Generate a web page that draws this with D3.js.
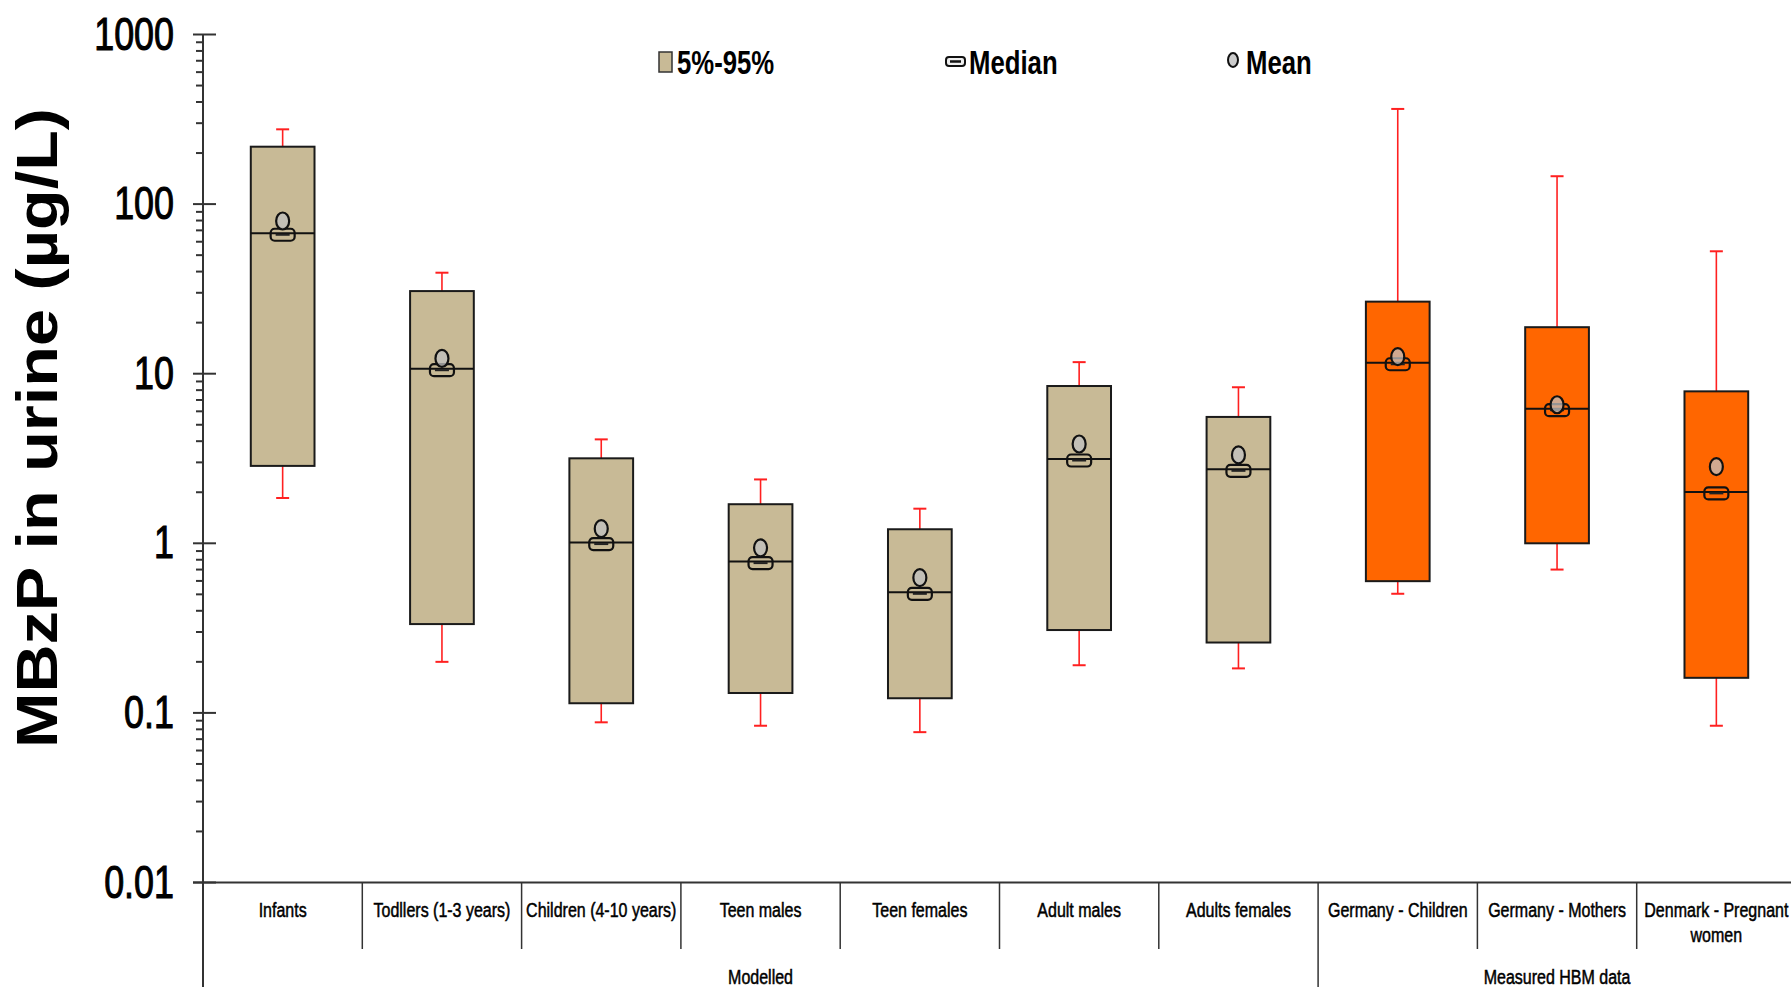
<!DOCTYPE html>
<html><head><meta charset="utf-8">
<script src="https://cdn.jsdelivr.net/npm/d3@7"></script>
<style>
html,body{margin:0;padding:0;background:#fff;}
svg{display:block;}
text{font-family:"Liberation Sans", Arial, sans-serif;fill:#000;}
</style></head>
<body>
<svg id="chart" width="1791" height="987"></svg>
<script>
// ---------- data ----------
const categories = ["Infants","Todllers (1-3 years)","Children (4-10 years)","Teen males","Teen females","Adult males","Adults females","Germany - Children","Germany - Mothers","Denmark - Pregnant|women"];
const groupNames = ["Modelled","Measured HBM data"];
const groupOf    = [0,0,0,0,0,0,0,1,1,1];
const whiskerLow  = [1.85, 0.20, 0.088, 0.084, 0.077, 0.191, 0.183, 0.504, 0.70, 0.084];
const p5          = [2.86, 0.334, 0.114, 0.131, 0.122, 0.308, 0.26, 0.598, 1.0, 0.161];
const median      = [67.3, 10.7, 1.01, 0.78, 0.514, 3.14, 2.73, 11.6, 6.22, 2.01];
const mean        = [79.5, 12.3, 1.22, 0.94, 0.627, 3.85, 3.32, 12.6, 6.56, 2.83];
const p95         = [218, 30.7, 3.17, 1.70, 1.21, 8.46, 5.56, 26.6, 18.8, 7.87];
const whiskerHigh = [276, 39.4, 4.10, 2.38, 1.60, 11.7, 8.32, 364, 146, 52.7];
const yTickValues = [0.01, 0.1, 1, 10, 100, 1000];
const yTickLabels = ["0.01","0.1","1","10","100","1000"];
const legendLabels = ["5%-95%","Median","Mean"];
const groupColors = ["#C8BA96","#FF6600"];

// ---------- layout ----------
const svg = d3.select("#chart");
const axisX = 203, axisY0 = 882.5, axisY1 = 34.5;
const x = d3.scaleBand().domain(categories).range([axisX, 1796]).padding(0);
const y = d3.scaleLog().domain([0.01, 1000]).range([axisY0, axisY1]);
const boxW = x.bandwidth()*0.40;
const capW = 13;

function ctext(g, str, px, py, size, weight, anchor, sx){
  const t = g.append("g").attr("transform",`translate(${px},${py}) scale(${sx||0.8},1)`)
    .append("text").attr("x",0).attr("y",0)
    .attr("font-size",size).attr("font-weight",weight||"normal")
    .attr("text-anchor",anchor||"start").text(str);
  return t;
}

// ---------- y axis ----------
const minor = y.ticks().filter(v => !yTickValues.some(m => Math.abs(m-v)/m < 1e-6));
const ax = svg.append("g");
ax.append("line").attr("x1",axisX).attr("x2",axisX).attr("y1",axisY1).attr("y2",987)
  .attr("stroke","#333").attr("stroke-width",2);
ax.selectAll(".minor").data(minor).join("line")
  .attr("x1",axisX-7).attr("x2",axisX).attr("y1",d=>y(d)).attr("y2",d=>y(d))
  .attr("stroke","#333").attr("stroke-width",2);
ax.selectAll(".major").data(yTickValues).join("line")
  .attr("x1",axisX-10).attr("x2",axisX+13).attr("y1",d=>y(d)).attr("y2",d=>y(d))
  .attr("stroke","#333").attr("stroke-width",2);
yTickValues.forEach((v,i)=>{
  ctext(ax, yTickLabels[i], 174, y(v)+15, 46, "normal", "end", 0.78).attr("stroke","#000").attr("stroke-width",1.1);
});

// y title
svg.append("text")
  .attr("transform","translate(57,428) rotate(-90)")
  .attr("text-anchor","middle")
  .attr("font-size",57).attr("font-weight","bold")
  .attr("textLength",640).attr("lengthAdjust","spacingAndGlyphs")
  .text("MBzP in urine (\u00b5g/L)");

// ---------- x axis ----------
const xa = svg.append("g");
xa.append("line").attr("x1",193).attr("x2",1791).attr("y1",axisY0).attr("y2",axisY0)
  .attr("stroke","#333").attr("stroke-width",2);
categories.forEach((c,i)=>{
  if(i>0){
    const bx = x(c);
    const isGroupEdge = groupOf[i] !== groupOf[i-1];
    xa.append("line").attr("x1",bx).attr("x2",bx).attr("y1",axisY0).attr("y2",isGroupEdge?987:949)
      .attr("stroke","#333").attr("stroke-width",1.5);
  }
  const lines = c.split("|");
  lines.forEach((ln,k)=>{
    ctext(xa, ln, x(c)+x.bandwidth()/2, 917 + k*25, 20, "normal", "middle").attr("stroke","#000").attr("stroke-width",0.5);
  });
});
groupNames.forEach((gname,gi)=>{
  const idx = categories.filter((c,i)=>groupOf[i]===gi);
  const x0 = x(idx[0]), x1 = x(idx[idx.length-1]) + x.bandwidth();
  ctext(xa, gname, (x0+x1)/2, 984, 20, "normal", "middle").attr("stroke","#000").attr("stroke-width",0.5);
});

// ---------- boxes ----------
const plot = svg.append("g");
categories.forEach((c,i)=>{
  const cx = x(c) + x.bandwidth()/2;
  const col = groupColors[groupOf[i]];
  const g = plot.append("g");
  // whiskers
  g.append("line").attr("x1",cx).attr("x2",cx).attr("y1",y(p95[i])).attr("y2",y(whiskerHigh[i]))
    .attr("stroke","#ff2020").attr("stroke-width",1.6);
  g.append("line").attr("x1",cx-capW/2).attr("x2",cx+capW/2).attr("y1",y(whiskerHigh[i])).attr("y2",y(whiskerHigh[i]))
    .attr("stroke","#ff2020").attr("stroke-width",2);
  g.append("line").attr("x1",cx).attr("x2",cx).attr("y1",y(p5[i])).attr("y2",y(whiskerLow[i]))
    .attr("stroke","#ff2020").attr("stroke-width",1.6);
  g.append("line").attr("x1",cx-capW/2).attr("x2",cx+capW/2).attr("y1",y(whiskerLow[i])).attr("y2",y(whiskerLow[i]))
    .attr("stroke","#ff2020").attr("stroke-width",2);
  // box
  g.append("rect").attr("x",cx-boxW/2).attr("y",y(p95[i])).attr("width",boxW).attr("height",y(p5[i])-y(p95[i]))
    .attr("fill",col).attr("stroke","#1a1a1a").attr("stroke-width",2);
  // median line
  g.append("line").attr("x1",cx-boxW/2).attr("x2",cx+boxW/2).attr("y1",y(median[i])).attr("y2",y(median[i]))
    .attr("stroke","#111").attr("stroke-width",2);
  // median marker
  g.append("rect").attr("x",cx-12).attr("y",y(median[i])-4.5).attr("width",24).attr("height",12).attr("rx",4)
    .attr("fill","none").attr("stroke","#111").attr("stroke-width",2.2);
  g.append("line").attr("x1",cx-7).attr("x2",cx+7).attr("y1",y(median[i])+1.5).attr("y2",y(median[i])+1.5)
    .attr("stroke","#222").attr("stroke-width",2);
  // mean marker
  g.append("ellipse").attr("cx",cx).attr("cy",y(mean[i])).attr("rx",6.5).attr("ry",8.5)
    .attr("fill","#c0c0c0").attr("fill-opacity",0.75).attr("stroke","#111").attr("stroke-width",2.2);
});

// ---------- legend ----------
const lg = svg.append("g");
lg.append("rect").attr("x",659).attr("y",52).attr("width",13).attr("height",20)
  .attr("fill",groupColors[0]).attr("stroke","#333").attr("stroke-width",1.5);
ctext(lg, legendLabels[0], 677, 74, 33, "bold", "start", 0.78);
lg.append("rect").attr("x",946).attr("y",57).attr("width",19).attr("height",9).attr("rx",3)
  .attr("fill","#eee").attr("stroke","#111").attr("stroke-width",2);
lg.append("line").attr("x1",950).attr("x2",961).attr("y1",61.5).attr("y2",61.5).attr("stroke","#111").attr("stroke-width",2.5);
ctext(lg, legendLabels[1], 969, 74, 33, "bold", "start", 0.78);
lg.append("ellipse").attr("cx",1233).attr("cy",60).attr("rx",5).attr("ry",7)
  .attr("fill","#ccc").attr("stroke","#111").attr("stroke-width",2);
ctext(lg, legendLabels[2], 1246, 74, 33, "bold", "start", 0.78);
</script>
</body></html>
